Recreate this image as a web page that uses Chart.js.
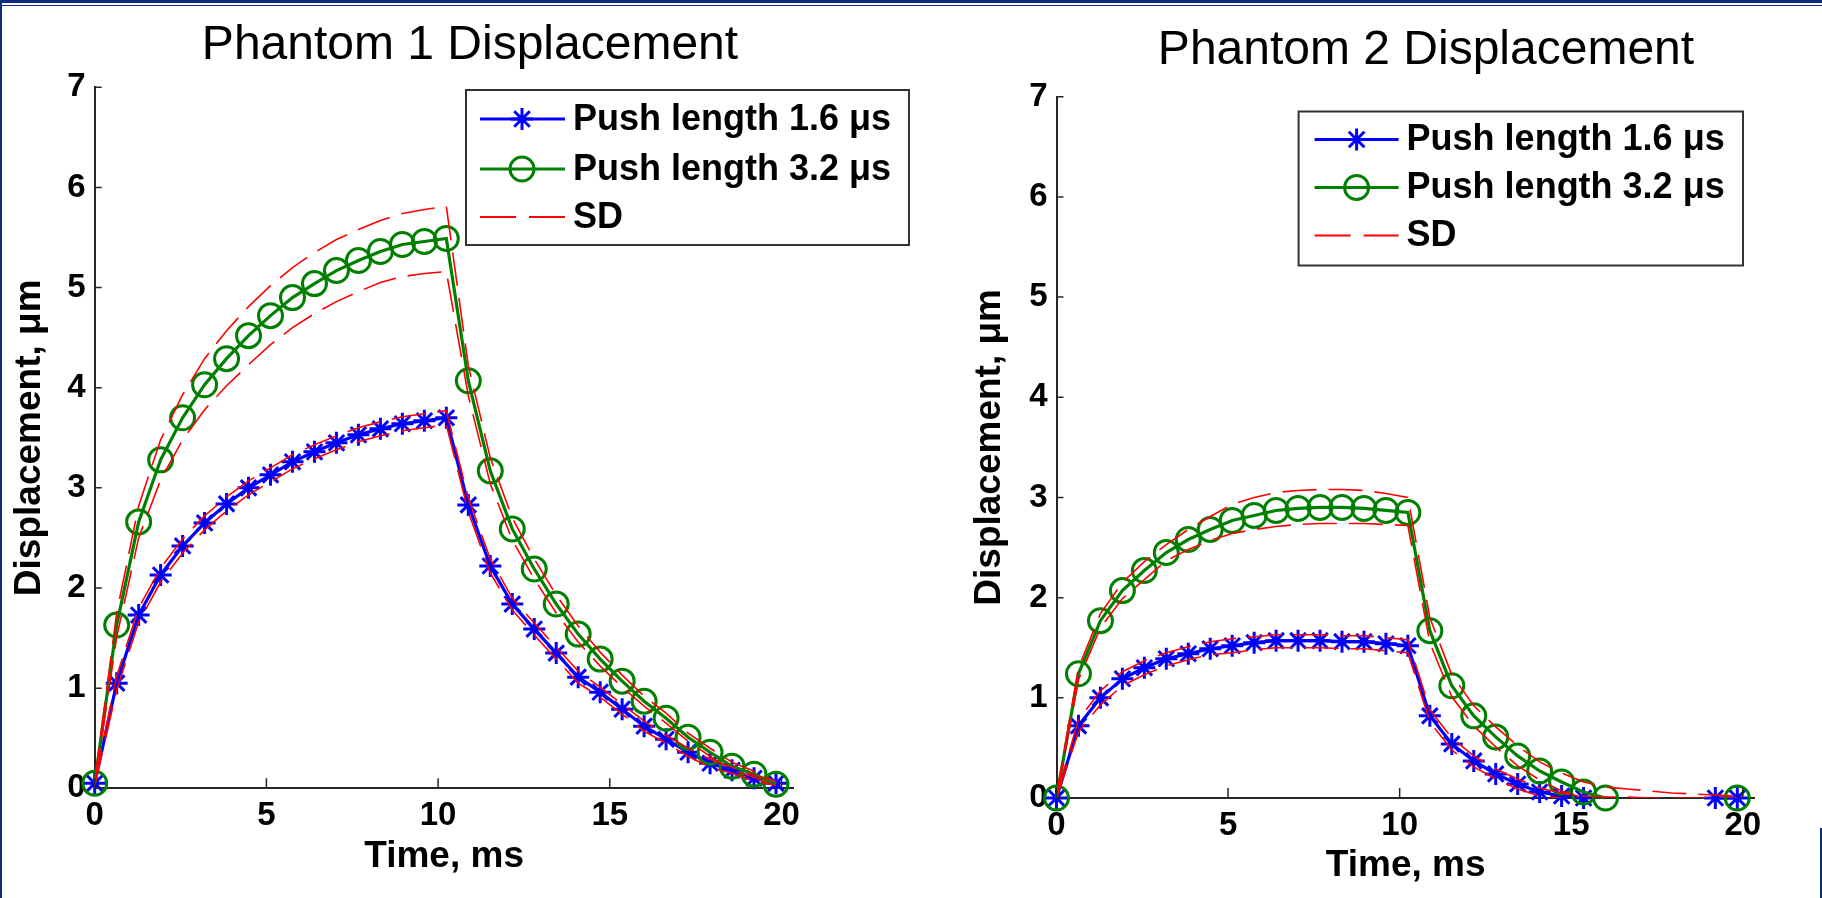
<!DOCTYPE html>
<html><head><meta charset="utf-8">
<script src="https://cdn.jsdelivr.net/npm/chart.js@4.4.1/dist/chart.umd.min.js"></script>
<style>
html,body{margin:0;padding:0;width:1822px;height:898px;overflow:hidden;background:#fff}
canvas{position:absolute;top:0}
.deco{position:absolute;background:#0b2c7f}
</style></head><body>
<canvas id="p1" width="940" height="898" style="left:0px"></canvas>
<canvas id="p2" width="992" height="898" style="left:930px"></canvas>
<div class="deco" style="left:0;top:0;width:1822px;height:3px"></div>
<div class="deco" style="left:0;top:4.5px;width:1822px;height:1.2px"></div>
<div class="deco" style="left:0;top:0;width:2.3px;height:898px"></div>
<div class="deco" style="left:1820px;top:828px;width:2px;height:70px"></div>
<script>
// ---------- data ----------
const timeMs = [0, 0.64, 1.28, 1.92, 2.56, 3.20, 3.84, 4.48, 5.12, 5.76, 6.40, 7.04, 7.68, 8.32, 8.96, 9.60,
  10.24, 10.88, 11.52, 12.16, 12.80, 13.44, 14.08, 14.72, 15.36, 16.00, 16.64, 17.28, 17.92, 18.56, 19.20, 19.84];
const xTickValues = [0, 5, 10, 15, 20];
const yTickValues = [0, 1, 2, 3, 4, 5, 6, 7];
const seriesLabels = ['Push length 1.6 \u03bcs', 'Push length 3.2 \u03bcs', 'SD'];
const chartTitles = ['Phantom 1 Displacement', 'Phantom 2 Displacement'];
const xAxisTitle = 'Time, ms';
const yAxisTitle = 'Displacement, \u03bcm';

// Phantom 1
const p1Short = [0.05, 1.05, 1.73, 2.13, 2.42, 2.65, 2.84, 3.00, 3.13, 3.26, 3.36, 3.45, 3.53, 3.59, 3.64, 3.67,
  3.70, 2.83, 2.22, 1.84, 1.59, 1.35, 1.11, 0.96, 0.79, 0.62, 0.49, 0.36, 0.25, 0.18, 0.10, 0.05];
const p1ShortUpper = [0.07, 1.12, 1.80, 2.20, 2.49, 2.72, 2.91, 3.07, 3.20, 3.33, 3.43, 3.52, 3.60, 3.66, 3.71, 3.74,
  3.77, 2.90, 2.29, 1.90, 1.65, 1.41, 1.17, 1.01, 0.84, 0.67, 0.53, 0.40, 0.29, 0.21, 0.13, 0.07];
const p1ShortLower = [0.03, 0.98, 1.66, 2.06, 2.35, 2.58, 2.77, 2.93, 3.06, 3.19, 3.29, 3.38, 3.46, 3.52, 3.57, 3.60,
  3.63, 2.76, 2.15, 1.78, 1.53, 1.29, 1.05, 0.91, 0.74, 0.57, 0.45, 0.32, 0.21, 0.15, 0.07, 0.03];
const p1Long = [0.05, 1.63, 2.66, 3.28, 3.70, 4.03, 4.29, 4.52, 4.72, 4.90, 5.04, 5.17, 5.27, 5.36, 5.43, 5.46,
  5.49, 4.07, 3.17, 2.59, 2.19, 1.84, 1.54, 1.29, 1.07, 0.87, 0.70, 0.51, 0.36, 0.22, 0.14, 0.04];
const p1LongUpper = [0.07, 1.75, 2.82, 3.48, 3.93, 4.29, 4.57, 4.81, 5.02, 5.20, 5.35, 5.48, 5.58, 5.67, 5.74, 5.78,
  5.81, 4.22, 3.30, 2.70, 2.29, 1.93, 1.62, 1.36, 1.13, 0.92, 0.75, 0.55, 0.40, 0.26, 0.17, 0.06];
const p1LongLower = [0.03, 1.51, 2.50, 3.08, 3.48, 3.78, 4.02, 4.23, 4.43, 4.60, 4.74, 4.86, 4.96, 5.05, 5.11, 5.14,
  5.16, 3.92, 3.04, 2.48, 2.09, 1.75, 1.46, 1.22, 1.01, 0.82, 0.65, 0.47, 0.32, 0.18, 0.11, 0.02];

// Phantom 2
const p2Short = [0.00, 0.72, 1.00, 1.19, 1.30, 1.39, 1.44, 1.49, 1.52, 1.55, 1.57, 1.57, 1.57, 1.56, 1.56, 1.54,
  1.52, 0.82, 0.54, 0.37, 0.24, 0.14, 0.06, 0.02, 0.00, null, null, null, null, null, 0.00, 0.00];
const p2ShortUpper = [0.02, 0.78, 1.07, 1.26, 1.37, 1.45, 1.51, 1.56, 1.59, 1.61, 1.63, 1.63, 1.63, 1.62, 1.62, 1.60,
  1.58, 0.88, 0.60, 0.42, 0.29, 0.19, 0.10, 0.05, 0.02, 0.01, 0.01, 0.00, 0.00, 0.00, 0.00, 0.00];
const p2ShortLower = [0.00, 0.66, 0.93, 1.12, 1.23, 1.32, 1.38, 1.43, 1.45, 1.48, 1.50, 1.50, 1.50, 1.49, 1.49, 1.47,
  1.45, 0.76, 0.48, 0.31, 0.19, 0.09, 0.02, 0.00, null, null, null, null, null, null, null, null];
const p2Long = [0.00, 1.24, 1.77, 2.07, 2.27, 2.45, 2.58, 2.68, 2.77, 2.82, 2.87, 2.89, 2.90, 2.90, 2.89, 2.87,
  2.85, 1.67, 1.12, 0.82, 0.61, 0.42, 0.27, 0.16, 0.06, 0.00, null, null, null, null, null, 0.00];
const p2LongUpper = [0.02, 1.30, 1.84, 2.15, 2.36, 2.53, 2.68, 2.81, 2.93, 3.00, 3.05, 3.07, 3.08, 3.08, 3.07, 3.04,
  3.00, 1.80, 1.23, 0.92, 0.71, 0.52, 0.36, 0.25, 0.16, 0.11, 0.09, 0.07, 0.05, 0.04, 0.03, 0.02];
const p2LongLower = [0.00, 1.18, 1.70, 1.99, 2.18, 2.37, 2.48, 2.57, 2.64, 2.68, 2.71, 2.73, 2.74, 2.74, 2.74, 2.73,
  2.72, 1.55, 1.01, 0.72, 0.51, 0.32, 0.18, 0.07, 0.00, null, null, null, null, null, null, null];

// ---------- helpers ----------
const FONT = '"Liberation Sans", Arial, Helvetica, sans-serif';
const BLUE = '#0000ff', GREEN = '#008000', RED = '#ff0000', AXIS = '#262626';
const toPoints = arr => timeMs.map((t, i) => ({x: t, y: arr[i]}));

function drawMarker(ctx, style, x, y, r, color, w) {
  ctx.save();
  ctx.strokeStyle = color; ctx.lineWidth = w; ctx.setLineDash([]);
  ctx.beginPath();
  if (style === 'star') {
    for (let k = 0; k < 4; k++) {
      const a = k * Math.PI / 4;
      ctx.moveTo(x - r * Math.cos(a), y - r * Math.sin(a));
      ctx.lineTo(x + r * Math.cos(a), y + r * Math.sin(a));
    }
  } else {
    ctx.arc(x, y, r, 0, Math.PI * 2);
  }
  ctx.stroke();
  ctx.restore();
}

const inwardTicks = {
  id: 'inwardTicks',
  afterDatasetsDraw(chart) {
    const {ctx, chartArea: a, scales: {x, y}} = chart;
    ctx.save();
    ctx.strokeStyle = AXIS; ctx.lineWidth = 1.5; ctx.setLineDash([]);
    ctx.beginPath();
    x.ticks.forEach(t => { const p = x.getPixelForValue(t.value); ctx.moveTo(p, a.bottom); ctx.lineTo(p, a.bottom - 10); });
    y.ticks.forEach(t => { const p = y.getPixelForValue(t.value); ctx.moveTo(a.left, p); ctx.lineTo(a.left + 7, p); });
    ctx.stroke();
    ctx.restore();
  }
};

const boxLegend = {
  id: 'boxLegend',
  afterDraw(chart, args, o) {
    const ctx = chart.ctx;
    const seen = new Set(), items = [];
    chart.data.datasets.forEach(ds => { if (!seen.has(ds.label)) { seen.add(ds.label); items.push(ds); } });
    ctx.save();
    ctx.fillStyle = '#fff'; ctx.fillRect(o.x, o.y, o.w, o.h);
    ctx.strokeStyle = '#333'; ctx.lineWidth = 2; ctx.strokeRect(o.x, o.y, o.w, o.h);
    items.forEach((ds, i) => {
      const yy = o.y + o.rows[i];
      ctx.strokeStyle = ds.borderColor;
      ctx.lineWidth = ds.pointRadius > 0 ? ds.borderWidth : 2;
      ctx.setLineDash(ds.pointRadius > 0 ? [] : [36, 13]);
      ctx.beginPath(); ctx.moveTo(o.x + o.lineStart, yy); ctx.lineTo(o.x + o.lineEnd, yy); ctx.stroke();
      ctx.setLineDash([]);
      if (ds.pointRadius > 0) drawMarker(ctx, ds.pointStyle, o.x + o.markerX, yy, ds.pointRadius, ds.pointBorderColor, ds.pointBorderWidth);
      ctx.fillStyle = '#000';
      ctx.font = 'bold 36px ' + FONT;
      ctx.textBaseline = 'middle'; ctx.textAlign = 'left';
      ctx.fillText(ds.label, o.x + o.textX, yy + 1);
    });
    ctx.restore();
  }
};

function makeDatasets(shortM, shortU, shortL, longM, longU, longL) {
  const sd = arr => ({label: seriesLabels[2], data: toPoints(arr), borderColor: RED, borderWidth: 1.6,
    borderDash: [34, 12], pointRadius: 0, pointHoverRadius: 0, order: 0});
  return [
    {label: seriesLabels[0], data: toPoints(shortM), borderColor: BLUE, borderWidth: 3.2, pointStyle: 'star',
     pointRadius: 11, pointHoverRadius: 11, pointBorderColor: BLUE, pointBorderWidth: 3,
     pointBackgroundColor: 'rgba(0,0,0,0)', clip: false, order: 2},
    {label: seriesLabels[1], data: toPoints(longM), borderColor: GREEN, borderWidth: 3.2, pointStyle: 'circle',
     pointRadius: 12, pointHoverRadius: 12, pointBorderColor: GREEN, pointBorderWidth: 3,
     pointBackgroundColor: 'rgba(0,0,0,0)', clip: false, order: 1},
    sd(shortU), sd(shortL), sd(longU), sd(longL)
  ];
}

function makeChart(id, title, datasets, L) {
  return new Chart(document.getElementById(id), {
    type: 'line',
    data: {datasets},
    plugins: [inwardTicks, boxLegend],
    options: {
      responsive: false, animation: false, devicePixelRatio: 1, events: [],
      layout: {padding: 0},
      plugins: {
        legend: {display: false}, tooltip: {enabled: false},
        title: {display: true, text: title, color: '#000', font: {family: FONT, size: 48, weight: 'normal'},
                padding: {top: L.titleTop, bottom: L.titleBottom}},
        boxLegend: L.legend
      },
      scales: {
        x: {type: 'linear', min: 0, max: 20.35, position: 'bottom',
            afterFit: s => { s.height = L.xAxisH; },
            afterBuildTicks: s => { s.ticks = xTickValues.map(v => ({value: v})); },
            grid: {display: false, drawTicks: false},
            border: {display: true, color: AXIS, width: 2},
            ticks: {color: '#000', font: {family: FONT, size: 33, weight: 'bold'}, padding: L.xTickPad, maxRotation: 0, autoSkip: false},
            title: {display: true, text: xAxisTitle, color: '#000', font: {family: FONT, size: 37, weight: 'bold'},
                    padding: {top: 0, bottom: L.xTitleBottom}}},
        y: {type: 'linear', min: 0, max: 7, position: 'left',
            afterFit: s => { s.width = L.yAxisW; },
            afterBuildTicks: s => { s.ticks = yTickValues.map(v => ({value: v})); },
            grid: {display: false, drawTicks: false},
            border: {display: true, color: AXIS, width: 2},
            ticks: {color: '#000', font: {family: FONT, size: 33, weight: 'bold'}, padding: 9},
            title: {display: true, text: yAxisTitle, color: '#000', font: {family: FONT, size: 37, weight: 'bold'},
                    padding: {top: L.yTitleTop, bottom: 0}}},
        spacer: {type: 'linear', position: 'right', display: true,
            afterFit: s => { s.width = L.rightW; },
            grid: {display: false, drawTicks: false}, border: {display: false},
            ticks: {display: false}, title: {display: false}}
      }
    }
  });
}

makeChart('p1', chartTitles[0],
  makeDatasets(p1Short, p1ShortUpper, p1ShortLower, p1Long, p1LongUpper, p1LongLower),
  {titleTop: 16.7, titleBottom: 13, xAxisH: 109.7, xTickPad: 7.5, xTitleBottom: 19.3,
   yAxisW: 94.7, yTitleTop: 7.8, rightW: 146.5,
   legend: {x: 466, y: 90, w: 443, h: 155, rows: [29, 79, 127], lineStart: 14, lineEnd: 99, markerX: 56, textX: 107}});

makeChart('p2', chartTitles[1],
  makeDatasets(p2Short, p2ShortUpper, p2ShortLower, p2Long, p2LongUpper, p2LongLower),
  {titleTop: 21.7, titleBottom: 17.4, xAxisH: 100, xTickPad: 8.2, xTitleBottom: 10.3,
   yAxisW: 126.5, yTitleTop: 37.8, rightW: 167.2,
   legend: {x: 368.6, y: 111.5, w: 444.4, h: 154, rows: [28, 76, 124], lineStart: 16, lineEnd: 100, markerX: 58, textX: 108}});
</script>
</body></html>
